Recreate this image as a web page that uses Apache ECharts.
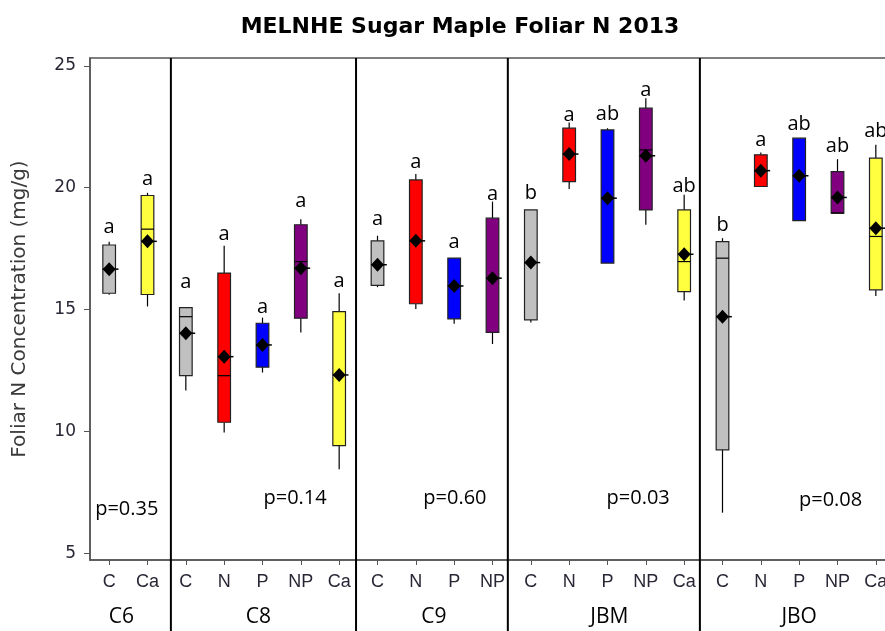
<!DOCTYPE html>
<html>
<head>
<meta charset="utf-8">
<script src="https://cdn.jsdelivr.net/npm/echarts@6/dist/echarts.min.js"></script>
<style>
  html, body { margin: 0; padding: 0; background: #fff; }
  #chart { width: 885px; height: 631px; }
</style>
</head>
<body>
<div id="chart"></div>
<script>
// Sites and the treatments sampled at each one
const sites = ['C6', 'C8', 'C9', 'JBM', 'JBO'];
const siteTreatments = [
  ['C', 'Ca'],
  ['C', 'N', 'P', 'NP', 'Ca'],
  ['C', 'N', 'P', 'NP'],
  ['C', 'N', 'P', 'NP', 'Ca'],
  ['C', 'N', 'P', 'NP', 'Ca']
];
// Slot under which each site name is centred
const siteLabelSlot = [0.32, 3.89, 8.47, 13.05, 18.0];

// Foliar N (mg/g) summaries, one row per site/treatment box
const whiskerLow  = [15.61, 15.13,  11.68,  9.96, 12.42, 14.06,  8.45,  15.92, 15.02, 14.42, 13.59,  14.47, 19.95, 16.91, 18.48, 15.37,   6.67, 20.05, 18.65, 18.96, 15.56];
const quartile1   = [15.67, 15.62,  12.29, 10.38, 12.64, 14.65,  9.42,  15.99, 15.24, 14.62, 14.07,  14.58, 20.25, 16.91, 19.09, 15.74,   9.25, 20.05, 18.65, 18.96, 15.81];
const medians     = [16.66, 18.30,  14.71, 12.29, 13.55, 16.97, 12.32,  16.84, 17.82, 15.97, 16.29,  16.93, 21.38, 19.57, 21.55, 16.97,  17.11, 20.70, 20.49, 18.96, 18.00];
const quartile3   = [17.65, 19.68,  15.08, 16.50, 14.44, 18.48, 14.92,  17.82, 20.32, 17.11, 18.75,  19.09, 22.44, 22.37, 23.26, 19.09,  17.79, 21.35, 22.03, 20.66, 21.21];
const whiskerHigh = [17.78, 19.79,  15.08, 17.62, 14.67, 18.71, 15.67,  18.03, 20.56, 17.11, 19.43,  19.09, 22.67, 22.44, 23.67, 19.71,  17.93, 21.44, 22.03, 21.17, 21.76];
const means       = [16.66, 17.80,  14.03, 13.07, 13.55, 16.70, 12.32,  16.84, 17.82, 15.97, 16.29,  16.93, 21.38, 19.57, 21.31, 17.27,  14.71, 20.70, 20.49, 19.60, 18.34];

// Tukey grouping letters and the height at which each is written
const letters  = ['a', 'a',  'a', 'a', 'a', 'a', 'a',  'a', 'a', 'a', 'a',  'b', 'a', 'ab', 'a', 'ab',  'b', 'a', 'ab', 'ab', 'ab'];
const letterAt = [18.37, 20.36,  16.11, 18.10, 15.08, 19.43, 16.18,  18.71, 21.03, 17.75, 19.74,  19.76, 22.99, 23.02, 23.98, 20.04,  18.44, 21.95, 22.61, 21.68, 22.33];

// ANOVA p-values per site, with the spot where each is written (slot, mg/g)
const pValues = ['0.35', '0.14', '0.60', '0.03', '0.08'];
const pAtSlot = [0.46, 4.85, 9.02, 13.80, 18.82];
const pAtN    = [6.80, 7.28, 7.28, 7.28, 7.19];

// Dividers between site panels, in slot units
const dividers = [1.61, 6.44, 10.40, 15.41];

const yTicks = [5, 10, 15, 20, 25];

const treatmentColors = { C: '#c0c0c0', N: '#ff0000', P: '#0000ff', NP: '#800080', Ca: '#ffff40' };

// Flatten the site/treatment layout into evenly spaced slots
const slotNames = [];
siteTreatments.forEach(list => list.forEach(t => slotNames.push(t)));
const slots = slotNames.map((_, i) => i);

const boxData = slots.map(i => [i, whiskerLow[i], quartile1[i], medians[i], quartile3[i], whiskerHigh[i], means[i], letterAt[i]]);

const labelFont = 'Open Sans, Liberation Sans, sans-serif';
const Y_MIN = 4.73, Y_MAX = 25.32;

function renderBox(params, api) {
  const i = api.value(0);
  const fill = treatmentColors[slotNames[i]];
  const bw = api.size([1, 0])[0] * 0.33;
  const pLo = api.coord([i, api.value(1)]);
  const pQ1 = api.coord([i, api.value(2)]);
  const pMed = api.coord([i, api.value(3)]);
  const pQ3 = api.coord([i, api.value(4)]);
  const pHi = api.coord([i, api.value(5)]);
  const pMean = api.coord([i, api.value(6)]);
  const pLetter = api.coord([i, api.value(7)]);
  const x = pQ3[0];
  const line = { stroke: '#000', lineWidth: 1.2 };
  const dx = 6.5, dy = 7;
  return {
    type: 'group',
    children: [
      { type: 'line', shape: { x1: x, y1: pHi[1], x2: x, y2: pQ3[1] }, style: line },
      { type: 'line', shape: { x1: x, y1: pQ1[1], x2: x, y2: pLo[1] }, style: line },
      { type: 'rect', shape: { x: x - bw / 2, y: pQ3[1], width: bw, height: pQ1[1] - pQ3[1] },
        style: { fill: fill, stroke: '#222', lineWidth: 1.2 } },
      { type: 'line', shape: { x1: x - bw / 2, y1: pMed[1], x2: x + bw / 2, y2: pMed[1] }, style: line },
      { type: 'line', shape: { x1: x - bw / 2, y1: pMean[1], x2: x + bw / 2 + 3, y2: pMean[1] }, style: { stroke: '#000', lineWidth: 1.5 } },
      { type: 'polygon', shape: { points: [[x, pMean[1] - dy], [x + dx, pMean[1]], [x, pMean[1] + dy], [x - dx, pMean[1]]] },
        style: { fill: '#000' } },
      { type: 'text', x: x, y: pLetter[1],
        style: { text: letters[i], fill: '#000', font: '20px ' + labelFont, align: 'center', verticalAlign: 'middle' } }
    ]
  };
}

function renderDivider(params, api) {
  const top = api.coord([api.value(0), Y_MAX]);
  return {
    type: 'line',
    shape: { x1: top[0], y1: top[1], x2: top[0], y2: api.getHeight() },
    style: { stroke: '#000', lineWidth: 2 }
  };
}

function renderSiteName(params, api) {
  const p = api.coord([api.value(0), Y_MIN]);
  return {
    type: 'text', x: p[0], y: p[1] + 57,
    style: { text: sites[params.dataIndex], fill: '#000', font: '21px ' + labelFont, align: 'center', verticalAlign: 'middle' }
  };
}

function renderPValue(params, api) {
  const p = api.coord([api.value(0), api.value(1)]);
  return {
    type: 'text', x: p[0], y: p[1],
    style: { text: 'p=' + pValues[params.dataIndex], fill: '#000', font: '20px ' + labelFont, align: 'center', verticalAlign: 'middle' }
  };
}

const chart = echarts.init(document.getElementById('chart'), null, { renderer: 'canvas' });
chart.setOption({
  backgroundColor: '#fff',
  animation: false,
  title: {
    text: 'MELNHE Sugar Maple Foliar N 2013',
    left: 455, top: 11, textAlign: 'center',
    textStyle: { fontFamily: 'DejaVu Sans', fontWeight: 'bold', fontSize: 22, color: '#000' }
  },
  grid: {
    left: 90, top: 58, width: 805, height: 502,
    outerBoundsMode: 'none', containLabel: false,
    show: true, borderColor: '#555', borderWidth: 1.5, backgroundColor: 'transparent'
  },
  xAxis: {
    type: 'value', min: -0.5, max: 20.5,
    splitLine: { show: false },
    axisLine: { onZero: false, lineStyle: { color: '#555', width: 1.5 } },
    axisTick: { customValues: slots, length: 5, lineStyle: { color: '#555' } },
    axisLabel: {
      customValues: slots, margin: 13,
      formatter: v => slotNames[Math.round(v)],
      fontFamily: 'Liberation Sans', fontSize: 18, color: '#2a2535'
    }
  },
  yAxis: {
    type: 'value', min: Y_MIN, max: Y_MAX,
    name: 'Foliar N Concentration (mg/g)',
    nameLocation: 'middle', nameRotate: 90, nameGap: 60,
    nameTextStyle: { fontFamily: 'DejaVu Sans', fontSize: 20, color: '#3a3a3a' },
    splitLine: { show: false },
    axisLine: { show: true, onZero: false, lineStyle: { color: '#555', width: 1.5 } },
    axisTick: { show: true, customValues: yTicks, length: 6, lineStyle: { color: '#555' } },
    axisLabel: { customValues: yTicks, margin: 14, fontFamily: 'DejaVu Sans', fontSize: 17, color: '#2a2535' }
  },
  series: [
    { type: 'custom', name: 'dividers', renderItem: renderDivider, clip: false, data: dividers.map(v => [v]), silent: true },
    { type: 'custom', name: 'sites', renderItem: renderSiteName, clip: false, data: siteLabelSlot.map(v => [v]), silent: true },
    { type: 'custom', name: 'p', renderItem: renderPValue, data: pAtSlot.map((v, k) => [v, pAtN[k]]), silent: true },
    { type: 'custom', name: 'Foliar N', renderItem: renderBox, data: boxData, encode: { x: 0, y: [1, 5] } }
  ]
});
</script>
</body>
</html>
